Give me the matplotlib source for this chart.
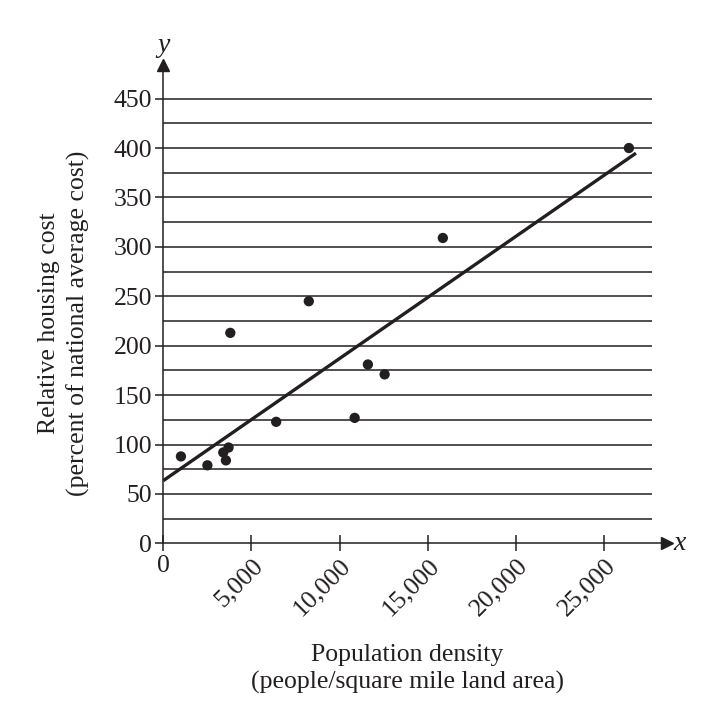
import matplotlib
matplotlib.use("Agg")
import matplotlib.pyplot as plt

# population density (people / sq mile) and relative housing cost (%)
density = [1000, 2500, 3400, 3550, 3700, 3800, 6400, 8250, 10850, 11600, 12550, 15850, 26400]
cost = [88, 79, 92, 84, 97, 213, 123, 245, 127, 181, 171, 309, 400]

# line of best fit, end points
fit_x = [0, 26800]
fit_y = [63.5, 394.8]

x_ticks = [0, 5000, 10000, 15000, 20000, 25000]
x_labels = ["0", "5,000", "10,000", "15,000", "20,000", "25,000"]
y_ticks = [0, 50, 100, 150, 200, 250, 300, 350, 400, 450]
grid_levels = list(range(25, 451, 25))

W, H = 711, 728
plt.rcParams['font.family'] = ['Liberation Serif', 'DejaVu Serif']
ink = '#231f20'
fs = 18.5

fig = plt.figure(figsize=(W / 100, H / 100), dpi=100)
# axes box in pixels: x from 163 to 667, y from 65 to 543 (top-down)
ax = fig.add_axes([163.3 / W, 1 - 543.4 / H, (667 - 163.3) / W, (543.4 - 65) / H])
ax.set_xlim(0, 28560)
ax.set_ylim(0, 484)

ax.hlines(grid_levels, 0, 27700, color=ink, lw=1.1, zorder=1)
ax.plot(fit_x, fit_y, color=ink, lw=2.4, solid_capstyle='butt', zorder=2)
ax.scatter(density, cost, s=55, color=ink, edgecolors='none', zorder=3)

for side in ['top', 'right']:
    ax.spines[side].set_visible(False)
for side in ['left', 'bottom']:
    ax.spines[side].set_color(ink)
    ax.spines[side].set_linewidth(1.1)

# arrow heads on the axes
ax.plot(1, 0, '>', color=ink, ms=8, transform=ax.get_yaxis_transform(), clip_on=False)
ax.plot(0, 1, '^', color=ink, ms=8, transform=ax.get_xaxis_transform(), clip_on=False)
ax.text(1.012, 0, 'x', style='italic', fontsize=20, ha='left', va='center',
        transform=ax.transAxes, color=ink)
ax.text(0, 1.015, 'y', style='italic', fontsize=20, ha='center', va='bottom',
        transform=ax.transAxes, color=ink)

ax.set_yticks(y_ticks)
ax.tick_params(axis='y', direction='out', length=6, width=1.1, color=ink,
               labelsize=fs, labelcolor=ink, pad=2)
ax.set_xticks(x_ticks)
ax.set_xticklabels(x_labels, rotation=45, ha='right', rotation_mode='anchor')
ax.tick_params(axis='x', direction='inout', length=12, width=1.1, color=ink,
               labelsize=fs, labelcolor=ink, pad=2)
labs = ax.get_xticklabels()
labs[0].set_rotation(0)
labs[0].set_ha('center')

fig.text(64 / W, 1 - 323 / H, 'Relative housing cost\n(percent of national average cost)',
         rotation=90, ha='center', va='center', fontsize=fs, color=ink,
         linespacing=1.4, multialignment='center')
fig.text(407 / W, 1 - 669 / H, 'Population density\n(people/square mile land area)',
         ha='center', va='center', fontsize=fs, color=ink,
         linespacing=1.3, multialignment='center')

fig.savefig('out.png', dpi=100)
